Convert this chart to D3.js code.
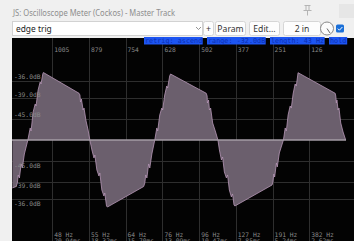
<!DOCTYPE html>
<html>
<head>
<script src="https://d3js.org/d3.v7.min.js"></script>
<style>
  body { margin: 0; background: #f0f0f0; overflow: hidden; }
  svg { display: block; }
</style>
</head>
<body>
<div id="Chart"></div>
<script>

// ---- values ----
var titleText = "JS: Oscilloscope Meter (Cockos) - Master Track";
var presetName = "edge trig";
var buttons = ["+", "Param", "Edit...", "2 in"];
var statusItems = ["retrig: ascend", "range: -32.0dB", "length: 43 Hz", "hold"];

var rangeDb = -32;
var windowSamples = 1131;
var sampleTicks = [1005, 879, 754, 628, 502, 377, 251, 126];
var hzLabels = ["48 Hz", "55 Hz", "64 Hz", "76 Hz", "96 Hz", "127 Hz", "191 Hz", "382 Hz"];
var msLabels = ["20.94ms", "18.32ms", "15.70ms", "13.09ms", "10.47ms", "7.85ms", "5.24ms", "2.62ms"];
var dbTicks = [-36, -39, -45];

// waveform: samples back in time, amplitude as fraction of full range
var waveSamples = [1141,1128,1124,1121,1117,1111,1107,1100,1088,
  1080,1077,1070,1063,1060,1053,1046,1043,1037,1035,913,910,908,905,899,896,889,882,876,
  869,862,859,852,845,842,835,828,825,819,816,692,688,685,681,675,671,664,654,
  647,644,637,630,627,620,613,610,603,600,478,475,474,470,467,463,456,446,438,
  433,426,422,416,409,405,399,392,388,383,380,253,250,247,244,238,235,228,214,
  208,204,198,191,187,181,174,170,165,164,37,35,33,31,27,24,18,10,1,0];
var waveValues = [-0.51,-0.495,-0.457,-0.372,-0.404,-0.255,-0.298,-0.149,0,
  0.128,0.096,0.298,0.383,0.362,0.532,0.617,0.596,0.702,0.718,0.497,0.479,0.404,0.436,0.319,0.34,0.202,0.106,0,
  -0.106,-0.191,-0.16,-0.319,-0.383,-0.351,-0.532,-0.596,-0.564,-0.702,-0.713,-0.495,-0.457,-0.372,-0.404,-0.255,-0.298,-0.149,0,
  0.128,0.096,0.266,0.34,0.319,0.479,0.574,0.553,0.681,0.702,0.497,0.468,0.394,0.426,0.319,0.34,0.181,0.085,0,
  -0.106,-0.213,-0.181,-0.34,-0.404,-0.372,-0.532,-0.606,-0.574,-0.691,-0.702,-0.479,-0.447,-0.362,-0.394,-0.245,-0.287,-0.138,0,
  0.128,0.096,0.266,0.362,0.34,0.489,0.596,0.574,0.691,0.716,0.497,0.468,0.394,0.426,0.319,0.34,0.181,0.085,0,0];

var W = 354, H = 241;
var scope = {left: 12, top: 38, right: 354, bottom: 241};
var mono = "'DejaVu Sans Mono', monospace";
var ui = "'Noto Sans', 'Open Sans', sans-serif";

var svg = d3.select("#Chart").append("svg")
    .attr("width", W)
    .attr("height", H);

// window chrome
svg.append("rect").attr("width", W).attr("height", H).attr("fill", "#f0f0f0");

svg.append("text")
    .attr("x", 13).attr("y", 16)
    .attr("font-family", ui).attr("font-size", 9.6)
    .attr("fill", "#8e8e8e")
    .attr("textLength", 162).attr("lengthAdjust", "spacingAndGlyphs")
    .text(titleText);

// pin icon
var pin = svg.append("g").attr("stroke", "#b4b4b4").attr("fill", "none").attr("stroke-width", 1);
pin.append("path").attr("d", "M304.5,5.5 h6 M306,5.5 v5 M309,5.5 v5 M303.5,10.5 h8 M307.5,10.5 v5");
svg.append("rect").attr("x", 339).attr("y", 4).attr("width", 15).attr("height", 14).attr("fill", "#e6e6e6");

// preset dropdown
svg.append("rect").attr("x", 12.5).attr("y", 21.5).attr("width", 190).attr("height", 14)
    .attr("fill", "#ffffff").attr("stroke", "#d2d2d2");
svg.append("text").attr("x", 16).attr("y", 31.5)
    .attr("font-family", ui).attr("font-size", 8.4).attr("fill", "#222")
    .text(presetName);
svg.append("path").attr("d", "M196,27 l2.5,2.5 l2.5,-2.5")
    .attr("fill", "none").attr("stroke", "#777").attr("stroke-width", 0.8);

// buttons
var btnX = d3.scaleOrdinal().domain(buttons).range([203, 215, 249, 283]);
var btnW = d3.scaleOrdinal().domain(buttons).range([10, 30, 30, 37]);
var btn = svg.selectAll("g.btn").data(buttons).enter().append("g").attr("class", "btn");
btn.append("rect")
    .attr("x", function(d) { return btnX(d) + 0.5; })
    .attr("y", 21.5).attr("width", function(d) { return btnW(d); }).attr("height", 14)
    .attr("rx", 2).attr("fill", "#fdfdfd").attr("stroke", "#d6d6d6");
btn.append("text")
    .attr("x", function(d) { return btnX(d) + btnW(d) / 2 + 0.5; })
    .attr("y", 31.5).attr("text-anchor", "middle")
    .attr("font-family", ui).attr("font-size", 8.6).attr("fill", "#333")
    .text(function(d) { return d; });

// knob + checkbox
svg.append("circle").attr("cx", 327).attr("cy", 28.5).attr("r", 6.5)
    .attr("fill", "#fbfbfb").attr("stroke", "#888").attr("stroke-width", 1);
svg.append("line").attr("x1", 327).attr("y1", 28.5).attr("x2", 330).attr("y2", 33)
    .attr("stroke", "#666").attr("stroke-width", 1);
svg.append("rect").attr("x", 336).attr("y", 24.5).attr("width", 8).attr("height", 8).attr("rx", 1.5)
    .attr("fill", "#1a6fd8");
svg.append("path").attr("d", "M337.8,28.6 l1.6,1.6 l3,-3.2")
    .attr("fill", "none").attr("stroke", "#fff").attr("stroke-width", 1);

// scope background
svg.append("rect")
    .attr("x", scope.left).attr("y", scope.top)
    .attr("width", scope.right - scope.left).attr("height", scope.bottom - scope.top)
    .attr("fill", "#030303");

svg.append("clipPath").attr("id", "C")
  .append("rect")
    .attr("x", scope.left).attr("y", scope.top)
    .attr("width", scope.right - scope.left).attr("height", scope.bottom - scope.top);

// scales
var x = d3.scaleLinear().domain([windowSamples, 0]).range([15.3, 346]);
var y = d3.scaleLinear().domain([-1, 1]).range([234, 46]);
var dbToFrac = function(db) { return Math.pow(10, (db - rangeDb) / 20); };

var g = svg.append("g").attr("clip-path", "url(#C)");

// vertical grid
g.selectAll("line.vg").data(sampleTicks).enter().append("line")
    .attr("class", "vg")
    .attr("x1", function(d) { return Math.round(x(d)) + 0.5; })
    .attr("x2", function(d) { return Math.round(x(d)) + 0.5; })
    .attr("y1", scope.top).attr("y2", scope.bottom)
    .attr("stroke", "#2e2e2e");

// horizontal dB grid, mirrored around centre
var dbLines = [];
dbTicks.forEach(function(db) { dbLines.push({db: db, side: 1}); dbLines.push({db: db, side: -1}); });
g.selectAll("line.hg").data(dbLines).enter().append("line")
    .attr("class", "hg")
    .attr("x1", scope.left).attr("x2", scope.right)
    .attr("y1", function(d) { return Math.round(y(d.side * dbToFrac(d.db))) + 0.5; })
    .attr("y2", function(d) { return Math.round(y(d.side * dbToFrac(d.db))) + 0.5; })
    .attr("stroke", "#2e2e2e");

// waveform
var wave = waveSamples.map(function(s, i) { return {s: s, v: waveValues[i]}; });
var area = d3.area()
    .x(function(d) { return x(d.s); })
    .y0(y(0))
    .y1(function(d) { return y(d.v); });
var line = d3.line()
    .x(function(d) { return x(d.s); })
    .y(function(d) { return y(d.v); });

g.append("path").datum(wave).attr("d", area).attr("fill", "#6b5f6d");
g.append("path").datum(wave).attr("d", line)
    .attr("fill", "none").attr("stroke", "#b898b8").attr("stroke-width", 0.8);

// centre line
g.append("line")
    .attr("x1", scope.left).attr("x2", x(0))
    .attr("y1", y(0)).attr("y2", y(0))
    .attr("stroke", "#a49ca6").attr("stroke-width", 1.6);

// labels
var labelColor = "#8a8a8a";
g.selectAll("text.top").data(sampleTicks).enter().append("text")
    .attr("class", "top")
    .attr("x", function(d) { return x(d) + 2; })
    .attr("y", 52)
    .attr("font-family", mono).attr("font-size", 6.3).attr("fill", labelColor)
    .text(function(d) { return d; });

g.selectAll("text.db").data(dbLines).enter().append("text")
    .attr("class", "db")
    .attr("x", 14)
    .attr("y", function(d) { return y(d.side * dbToFrac(d.db)) + (d.side > 0 ? -1.5 : 6.5); })
    .attr("font-family", mono).attr("font-size", 6.3).attr("fill", labelColor)
    .text(function(d) { return d.db.toFixed(1) + "dB"; });

g.selectAll("text.hz").data(sampleTicks).enter().append("text")
    .attr("class", "hz")
    .attr("x", function(d) { return x(d) + 2; })
    .attr("y", 236.5)
    .attr("font-family", mono).attr("font-size", 6.3).attr("fill", labelColor)
    .text(function(d, i) { return hzLabels[i]; });

g.selectAll("text.ms").data(sampleTicks).enter().append("text")
    .attr("class", "ms")
    .attr("x", function(d) { return x(d) + 2; })
    .attr("y", 242.5)
    .attr("font-family", mono).attr("font-size", 6.3).attr("fill", labelColor)
    .text(function(d, i) { return msLabels[i]; });

// status boxes along the top edge
var statusX = d3.scaleOrdinal().domain(statusItems).range([144, 207, 270, 329]);
var statusG = svg.selectAll("g.status").data(statusItems).enter().append("g").attr("class", "status");
statusG.append("rect")
    .attr("x", function(d) { return statusX(d); })
    .attr("y", 37).attr("height", 7.5)
    .attr("width", function(d) { return d.length * 4.05 + 2; })
    .attr("fill", "#1d55f2");
statusG.append("text")
    .attr("x", function(d) { return statusX(d) + 1; })
    .attr("y", 43.3)
    .attr("font-family", mono).attr("font-size", 6.8).attr("fill", "#0c2fb0")
    .text(function(d) { return d; });

</script>
</body>
</html>
